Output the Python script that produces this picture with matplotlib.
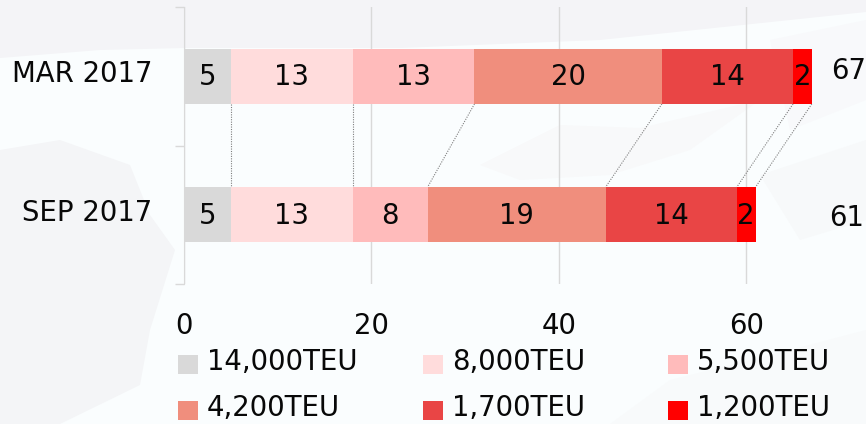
import numpy as np
import matplotlib
matplotlib.use('Agg')
import matplotlib.pyplot as plt
from matplotlib.patches import Polygon, Rectangle
from matplotlib.transforms import ScaledTranslation

W, H = 866, 424

periods = ['MAR 2017', 'SEP 2017']
classes = ['14,000TEU', '8,000TEU', '5,500TEU', '4,200TEU', '1,700TEU', '1,200TEU']
mar_2017 = [5, 13, 13, 20, 14, 2]
sep_2017 = [5, 13, 8, 19, 14, 2]
totals = [67, 61]
xticks = [0, 20, 40, 60]
colors = ['#d9d9d9', '#ffdcdc', '#ffbbbb', '#f08e7d', '#e94545', '#ff0000']

FS = 19.8
TXT = '#080808'


def px(x, y):
    return x / W, 1 - y / H


fig = plt.figure(figsize=(W / 100, H / 100), dpi=100, facecolor='#fafdfe')

# faint map in the background
bg_shapes = [
    ([(0, 0), (866, 0), (866, 12), (600, 40), (400, 48), (185, 48), (100, 50), (0, 58)], '#f4f4f7'),
    ([(0, 150), (60, 140), (130, 165), (150, 215), (175, 250), (150, 330), (140, 385), (60, 424), (0, 424)], '#f4f5f7'),
    ([(480, 165), (560, 125), (640, 128), (760, 100), (690, 150), (610, 175), (520, 180)], '#f8f9fa'),
    ([(770, 40), (866, 20), (866, 100), (790, 130)], '#f8f9fb'),
    ([(760, 175), (866, 140), (866, 220), (800, 240)], '#f7f9fa'),
    ([(610, 424), (670, 380), (790, 350), (866, 330), (866, 424)], '#f8fafb'),
]
for pts, c in bg_shapes:
    fig.add_artist(Polygon([px(*p) for p in pts], closed=True, transform=fig.transFigure,
                           facecolor=c, edgecolor='none', zorder=-5))

x0, x_unit = 184.0, 9.37
top, bottom = 7, 284
ax = fig.add_axes([x0 / W, 1 - bottom / H, (W - x0) / W, (bottom - top) / H])
ax.patch.set_alpha(0)
ax.set_xlim(0, (W - x0) / x_unit)
ax.set_ylim(1.5, -0.5)

y_pos = np.arange(len(periods))
rows = np.array([mar_2017, sep_2017])
lefts = np.hstack([np.zeros((2, 1)), np.cumsum(rows, axis=1)])
bar_h = 0.4

for i, cls in enumerate(classes):
    ax.barh(y_pos, rows[:, i], left=lefts[:, i], height=bar_h, color=colors[i], label=cls, zorder=3)
    for j in y_pos:
        ax.text(lefts[j, i] + rows[j, i] / 2, j + 0.006, str(rows[j, i]), ha='center', va='center',
                fontsize=FS, color=TXT, zorder=4)

# dotted connectors between the two bars
for k in range(1, lefts.shape[1]):
    ax.plot([lefts[0, k], lefts[1, k]], [bar_h / 2, 1 - bar_h / 2], color='#7f7f7f', lw=0.8,
            ls=(0, (1, 1.2)), zorder=2)

for j, total in enumerate(totals):
    ax.text([69.1, 68.9][j], j + [-0.035, 0.025][j], str(total), ha='left', va='center', fontsize=FS, color=TXT)

ax.set_xticks(xticks)
ax.grid(axis='x', color='#d9d9d9', lw=1, zorder=1)
ax.set_axisbelow(True)
ax.tick_params(axis='x', length=0, pad=20.5, labelsize=FS, labelcolor=TXT)

ax.set_yticks([-0.5, 0.5, 1.5], minor=False)
ax.set_yticklabels([])
ax.set_yticks(y_pos, periods, minor=True)
ax.tick_params(axis='y', which='major', length=6.5, width=1, color='#d9d9d9')
ax.tick_params(axis='y', which='minor', length=0, pad=23, labelsize=FS, labelcolor=TXT)
shift = ScaledTranslation(0, 5 / 100, fig.dpi_scale_trans)
for lab in ax.get_yticklabels(minor=True):
    lab.set_transform(lab.get_transform() + shift)

for side in ['top', 'right', 'bottom']:
    ax.spines[side].set_visible(False)
ax.spines['left'].set_color('#d9d9d9')

# legend placed by hand, columns are not equally wide
leg_x = [178, 423, 668]
leg_y = [355, 401]
for i, cls in enumerate(classes):
    lx, ly = leg_x[i % 3], leg_y[i // 3]
    fig.add_artist(Rectangle(px(lx, ly + 19), 20 / W, 19 / H, transform=fig.transFigure,
                             facecolor=colors[i], edgecolor='none'))
    fig.text(*px(lx + 29, ly + 7), cls, ha='left', va='center', fontsize=FS, color=TXT)

fig.savefig('out.png', dpi=100, facecolor=fig.get_facecolor())
